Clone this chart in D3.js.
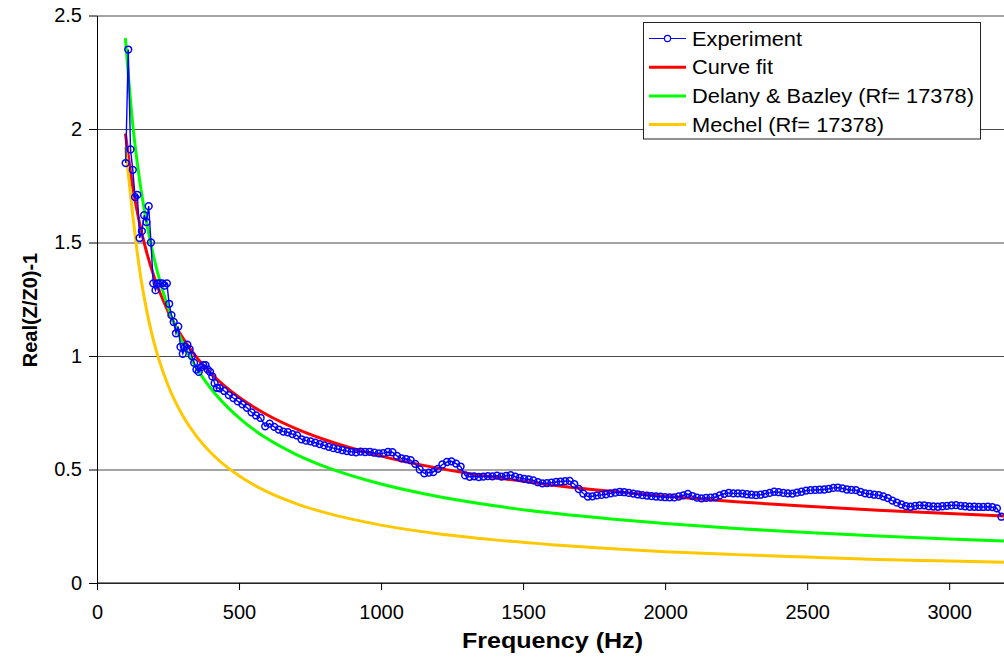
<!DOCTYPE html>
<html>
<head>
<meta charset="utf-8">
<script src="https://cdn.jsdelivr.net/npm/d3@7"></script>
<style>
  body { margin: 0; background: #fff; }
  text { font-family: Arial, "Liberation Sans", sans-serif; }
</style>
</head>
<body>
<svg class="chart" width="1004" height="661"></svg>
<script>
// x ticks / y ticks
const xTicks = [0, 500, 1000, 1500, 2000, 2500, 3000];
const yTicks = [0, 0.5, 1, 1.5, 2, 2.5];

// model curves
const fitFreq = [100, 125, 150, 175, 200, 250, 300, 350, 400, 500, 600, 700, 800, 1000, 1200, 1400, 1600, 1800, 2000, 2250, 2500, 2750, 3000, 3200];
const curveFit = [1.98, 1.752, 1.585, 1.456, 1.353, 1.197, 1.083, 0.995, 0.925, 0.818, 0.740, 0.680, 0.632, 0.559, 0.506, 0.465, 0.432, 0.405, 0.382, 0.358, 0.338, 0.321, 0.306, 0.295];
const delanyBazley = [2.40, 2.03, 1.775, 1.585, 1.435, 1.215, 1.062, 0.947, 0.858, 0.727, 0.635, 0.567, 0.514, 0.436, 0.381, 0.340, 0.308, 0.283, 0.262, 0.240, 0.222, 0.207, 0.194, 0.185];
const mechel = [1.92, 1.63, 1.38, 1.20, 1.063, 0.871, 0.741, 0.647, 0.575, 0.472, 0.401, 0.350, 0.311, 0.255, 0.217, 0.190, 0.169, 0.152, 0.138, 0.125, 0.114, 0.104, 0.097, 0.091];

// measured points
const expFreq = [
  101, 110, 118, 126, 134, 142, 150, 158, 166, 174, 182, 190, 198, 206, 214, 222, 230, 238, 246, 254,
  262, 270, 278, 286, 294, 302, 310, 318, 326, 334, 342, 350, 358, 366, 374, 382, 390, 398, 406, 414, 422,
  432, 448, 464, 480, 496, 512, 528, 544, 560, 576,
  592, 608, 624, 640, 656, 672, 688, 704, 720, 736,
  752, 768, 784, 800, 816, 832, 848, 864, 880, 896,
  912, 928, 944, 960, 976, 992, 1008, 1024, 1040, 1056,
  1072, 1088, 1104, 1120, 1136, 1152, 1168, 1184, 1200, 1216,
  1232, 1248, 1264, 1280, 1296, 1312, 1328, 1344, 1360, 1376,
  1392, 1408, 1424, 1440, 1456, 1472, 1488, 1504, 1520, 1536,
  1552, 1568, 1584, 1600, 1616, 1632, 1648, 1664, 1680, 1696,
  1712, 1728, 1744, 1760, 1776, 1792, 1808, 1824, 1840, 1856,
  1872, 1888, 1904, 1920, 1936, 1952, 1968, 1984, 2000, 2016,
  2032, 2048, 2064, 2080, 2096, 2112, 2128, 2144, 2160, 2176,
  2192, 2208, 2224, 2240, 2256, 2272, 2288, 2304, 2320, 2336,
  2352, 2368, 2384, 2400, 2416, 2432, 2448, 2464, 2480, 2496,
  2512, 2528, 2544, 2560, 2576, 2592, 2608, 2624, 2640, 2656,
  2672, 2688, 2704, 2720, 2736, 2752, 2768, 2784, 2800, 2816,
  2832, 2848, 2864, 2880, 2896, 2912, 2928, 2944, 2960, 2976,
  2992, 3008, 3024, 3040, 3056, 3072, 3088, 3104, 3120, 3136,
  3152, 3168, 3184
];
const expValue = [
  1.85, 2.35, 1.91, 1.82, 1.70, 1.71, 1.52, 1.55, 1.62, 1.59, 1.66, 1.50, 1.32, 1.29, 1.32, 1.32, 1.32, 1.31, 1.32, 1.23,
  1.18, 1.15, 1.10, 1.13, 1.04, 1.01, 1.04, 1.05, 1.03, 1.00, 0.97, 0.94, 0.93, 0.95, 0.96, 0.96, 0.94, 0.93, 0.91, 0.88, 0.86,
  0.858, 0.846, 0.828, 0.815, 0.800, 0.787, 0.772, 0.752, 0.738, 0.727,
  0.690, 0.702, 0.688, 0.676, 0.667, 0.664, 0.656, 0.650, 0.633, 0.627,
  0.624, 0.618, 0.612, 0.606, 0.600, 0.594, 0.590, 0.585, 0.581, 0.578,
  0.576, 0.579, 0.577, 0.578, 0.574, 0.571, 0.572, 0.577, 0.576, 0.560,
  0.549, 0.546, 0.541, 0.525, 0.500, 0.483, 0.486, 0.489, 0.503, 0.522,
  0.533, 0.536, 0.526, 0.513, 0.474, 0.468, 0.470, 0.467, 0.469, 0.471,
  0.470, 0.473, 0.469, 0.472, 0.475, 0.468, 0.463, 0.459, 0.456, 0.452,
  0.444, 0.439, 0.440, 0.442, 0.445, 0.447, 0.449, 0.450, 0.436, 0.414,
  0.394, 0.381, 0.382, 0.386, 0.388, 0.391, 0.395, 0.398, 0.401, 0.400,
  0.397, 0.394, 0.390, 0.387, 0.385, 0.383, 0.381, 0.380, 0.378, 0.377,
  0.377, 0.381, 0.386, 0.392, 0.383, 0.376, 0.373, 0.375, 0.376, 0.378,
  0.386, 0.393, 0.397, 0.395, 0.395, 0.394, 0.391, 0.389, 0.387, 0.389,
  0.393, 0.397, 0.402, 0.400, 0.397, 0.395, 0.394, 0.398, 0.402, 0.407,
  0.409, 0.410, 0.411, 0.412, 0.415, 0.419, 0.420, 0.417, 0.412, 0.410,
  0.409, 0.401, 0.395, 0.392, 0.389, 0.387, 0.381, 0.374, 0.363, 0.354,
  0.346, 0.339, 0.336, 0.340, 0.342, 0.342, 0.338, 0.337, 0.336, 0.338,
  0.340, 0.342, 0.343, 0.340, 0.338, 0.336, 0.336, 0.335, 0.335, 0.336,
  0.334, 0.329, 0.292
];

const legendLabels = ['Experiment', 'Curve fit', 'Delany & Bazley (Rf= 17378)', 'Mechel (Rf= 17378)'];
const legendColors = ['#0000ff', '#ff0000', '#00ff00', '#ffc800'];
const legendWidths = [110, 81, 282, 192];

const svg = d3.select('.chart');
const margin = { left: 97, top: 15.5, right: 0, bottom: 78 };
const width = +svg.attr('width') - margin.left - margin.right;
const height = +svg.attr('height') - margin.top - margin.bottom;

const x = d3.scaleLinear().domain([0, 3200]).range([0, 909]);
const y = d3.scaleLinear().domain([0, 2.5]).range([height, 0]);

const g = svg.append('g')
    .attr('transform', `translate(${margin.left} ${margin.top})`);

// gridlines
const grid = g.append('g')
    .call(d3.axisLeft(y).tickValues(yTicks).tickSize(-width).tickFormat(''));
grid.select('.domain').remove();
grid.selectAll('line').attr('stroke', '#4a4a4a').attr('stroke-width', 1.1);

// axes
const yAxisG = g.append('g')
    .call(d3.axisLeft(y).tickValues(yTicks).tickFormat(d => d).tickSize(8).tickSizeOuter(0).tickPadding(7));
yAxisG.selectAll('text').attr('font-size', 20).attr('font-family', 'Arial, "Liberation Sans", sans-serif').attr('fill', '#000');

const xAxisG = g.append('g')
    .attr('transform', `translate(0, ${height})`)
    .call(d3.axisBottom(x).tickValues(xTicks).tickFormat(d => d).tickSize(7).tickSizeOuter(0).tickPadding(15));
xAxisG.selectAll('text').attr('font-size', 20).attr('font-family', 'Arial, "Liberation Sans", sans-serif').attr('fill', '#000');
xAxisG.select('.domain').attr('d', `M0,0H${width}`);

g.append('text')
    .attr('x', width / 2 + 2)
    .attr('y', 648 - margin.top)
    .attr('text-anchor', 'middle')
    .attr('font-size', 22)
    .attr('font-weight', 'bold')
    .attr('textLength', 181)
    .attr('lengthAdjust', 'spacingAndGlyphs')
    .text('Frequency (Hz)');

svg.append('text')
    .attr('transform', 'translate(37 310) rotate(-90)')
    .attr('text-anchor', 'middle')
    .attr('font-size', 20)
    .attr('font-weight', 'bold')
    .text('Real(Z/Z0)-1');

// model lines
svg.append('clipPath').attr('id', 'plot')
    .append('rect').attr('x', 0).attr('y', -10).attr('width', width).attr('height', height + 10);

const plot = g.append('g').attr('clip-path', 'url(#plot)');

const modelLine = d3.line()
    .x((d, i) => x(fitFreq[i]))
    .y(d => y(d))
    .curve(d3.curveMonotoneX);

[[curveFit, legendColors[1]], [delanyBazley, legendColors[2]], [mechel, legendColors[3]]].forEach(([vals, col]) => {
    plot.append('path')
        .datum(vals)
        .attr('d', modelLine)
        .attr('fill', 'none')
        .attr('stroke', col)
        .attr('stroke-width', 3);
});

// experiment
const expData = expFreq.map((f, i) => ({ f, v: expValue[i] }));

plot.append('path')
    .datum(expData)
    .attr('d', d3.line().x(d => x(d.f)).y(d => y(d.v)))
    .attr('fill', 'none')
    .attr('stroke', legendColors[0])
    .attr('stroke-width', 1.4);

plot.selectAll('circle')
    .data(expData)
    .enter()
    .append('circle')
    .attr('cx', d => x(d.f))
    .attr('cy', d => y(d.v))
    .attr('r', 3.4)
    .attr('fill', 'none')
    .attr('stroke', legendColors[0])
    .attr('stroke-width', 1.5);

// legend
const legend = svg.append('g');
legend.append('rect')
    .attr('x', 643.5).attr('y', 22.5)
    .attr('width', 337).attr('height', 116.5)
    .attr('fill', '#fff')
    .attr('stroke', '#222')
    .attr('stroke-width', 1);

legendLabels.forEach((label, i) => {
    const cy = 38.5 + i * 28.7;
    legend.append('line')
        .attr('x1', 649).attr('x2', 686)
        .attr('y1', cy).attr('y2', cy)
        .attr('stroke', legendColors[i])
        .attr('stroke-width', i === 0 ? 1.2 : 3);
    if (i === 0) {
        legend.append('circle')
            .attr('cx', 667.5).attr('cy', cy).attr('r', 3.1)
            .attr('fill', '#fff')
            .attr('stroke', legendColors[0])
            .attr('stroke-width', 1.2);
    }
    legend.append('text')
        .attr('x', 692)
        .attr('y', cy)
        .attr('dy', '0.36em')
        .attr('font-size', 20)
        .attr('textLength', legendWidths[i])
        .attr('lengthAdjust', 'spacingAndGlyphs')
        .text(label);
});
</script>
</body>
</html>
